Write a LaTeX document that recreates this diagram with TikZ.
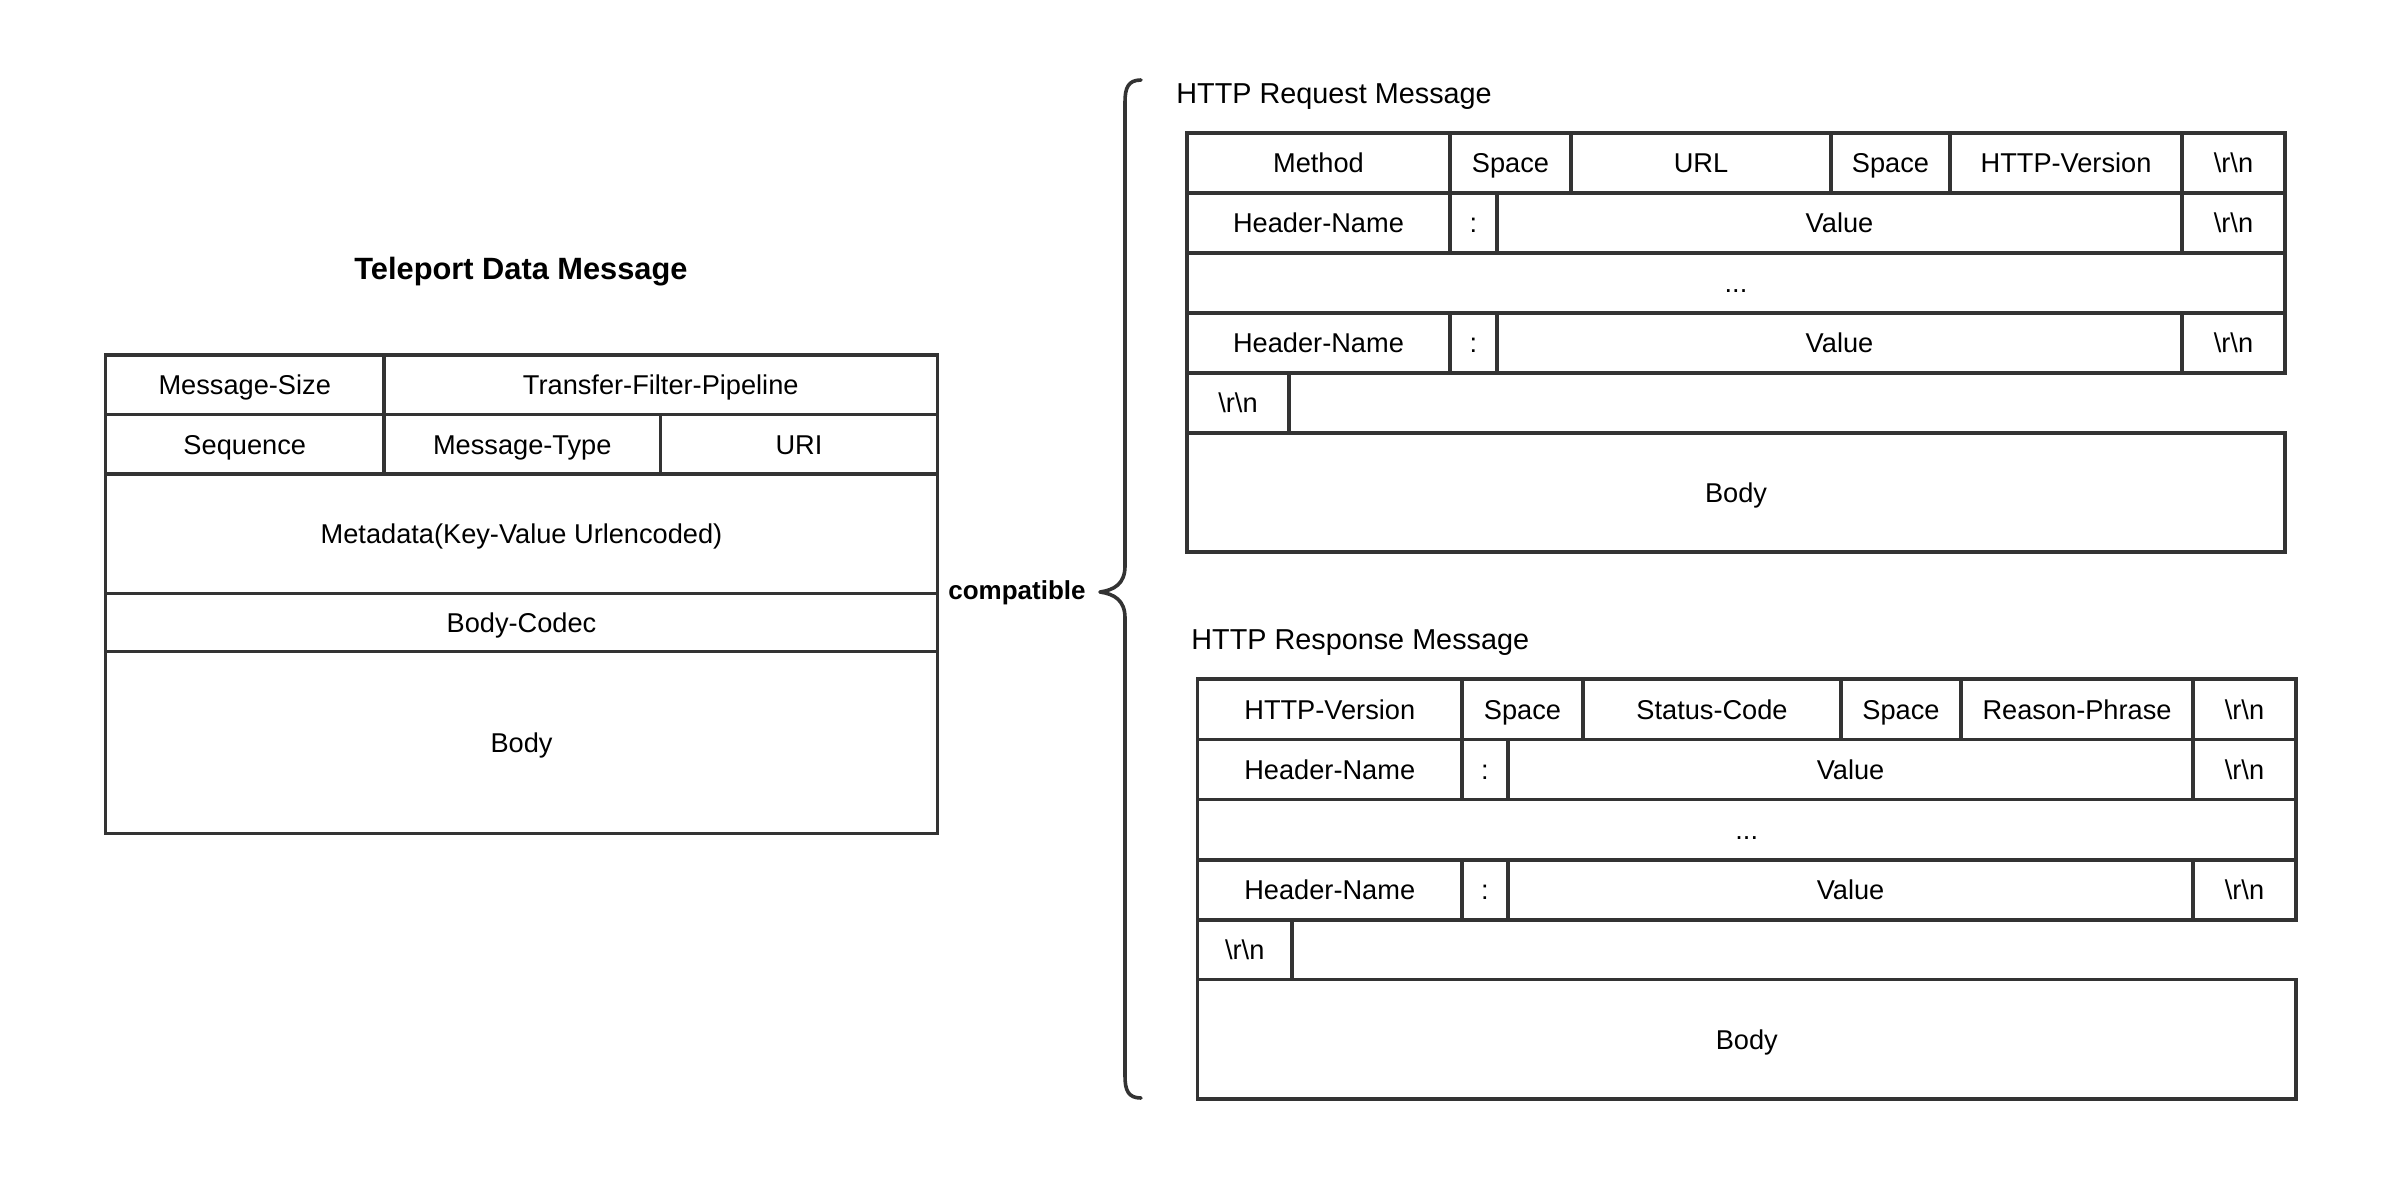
\documentclass[tikz,border=0pt]{standalone}
\usepackage{fontspec}
\setmainfont{Liberation Sans}
\definecolor{linegray}{HTML}{333333}
\tikzset{
  cell/.style={draw=linegray, line width=1.8pt, inner sep=0pt, outer sep=0pt,
    font=\fontsize{13.6}{15}\selectfont, text=black, text height=2.1ex, text depth=0.25ex},
  title/.style={inner sep=0pt, font=\fontsize{14.4}{16}\selectfont, text=black},
  btitle/.style={inner sep=0pt, font=\fontsize{15.4}{17}\selectfont\bfseries, text=black},
  brace/.style={draw=linegray, line width=1.8pt, line cap=round, line join=round},
}
\newcommand\mycell[6]{%
  \node[cell, minimum width={(#4-#2)*0.5pt}, minimum height={(#5-#3)*0.5pt}]
    (#1) at ({(#2+#4)/2},{(#3+#5)/2}) {#6};}
\newcommand\crlf{\textbackslash r\textbackslash n}
\begin{document}
\begin{tikzpicture}[x=0.5pt,y=-0.5pt]
\useasboundingbox (0,0) rectangle (2398,1196);

% ---------- Teleport Data Message ----------
\node[btitle] (ttitle) at (521,272) {Teleport Data Message};
\mycell{ms}{105.5}{355}{384}{414.5}{Message-Size}
\mycell{tfp}{384}{355}{937.5}{414.5}{Transfer-Filter-Pipeline}
\mycell{seq}{105.5}{414.5}{384}{474}{Sequence}
\mycell{mt}{384}{414.5}{660.5}{474}{Message-Type}
\mycell{uri}{660.5}{414.5}{937.5}{474}{URI}
\mycell{meta}{105.5}{474}{937.5}{593.5}{Metadata(Key-Value Urlencoded)}
\mycell{codec}{105.5}{593.5}{937.5}{651.5}{Body-Codec}
\mycell{tbody}{105.5}{651.5}{937.5}{833.5}{Body}

% ---------- compatible + brace ----------
\node[inner sep=0pt, font=\fontsize{13}{15}\selectfont\bfseries] (compat) at (1017,593) {compatible};
\coordinate (btop) at (1141,80);
\coordinate (btip) at (1100,592);
\coordinate (bbot) at (1141,1098);
\draw[brace] (btop) .. controls (1128,80) and (1125,88) .. (1125,102)
  -- (1125,566) .. controls (1125,584) and (1114,590) .. (btip)
  .. controls (1114,594) and (1125,600) .. (1125,618)
  -- (1125,1076) .. controls (1125,1090) and (1128,1098) .. (bbot);

% ---------- HTTP Request Message ----------
\node[title, anchor=west] (rqtitle) at (1176,97) {HTTP Request Message};
\mycell{rqa}{1187}{133}{1450}{193}{Method}
\mycell{rqb}{1450}{133}{1571}{193}{Space}
\mycell{rqc}{1571}{133}{1831}{193}{URL}
\mycell{rqd}{1831}{133}{1950}{193}{Space}
\mycell{rqe}{1950}{133}{2182}{193}{HTTP-Version}
\mycell{rqf}{2182}{133}{2285}{193}{\crlf}
\mycell{rqg}{1187}{193}{1450}{253}{Header-Name}
\mycell{rqh}{1450}{193}{1497}{253}{:}
\mycell{rqi}{1497}{193}{2182}{253}{Value}
\mycell{rqj}{2182}{193}{2285}{253}{\crlf}
\mycell{rqk}{1187}{253}{2285}{313}{...}
\mycell{rql}{1187}{313}{1450}{373}{Header-Name}
\mycell{rqm}{1450}{313}{1497}{373}{:}
\mycell{rqn}{1497}{313}{2182}{373}{Value}
\mycell{rqo}{2182}{313}{2285}{373}{\crlf}
\mycell{rqp}{1187}{373}{1289}{433}{\crlf}
\mycell{rqq}{1187}{433}{2285}{552}{Body}

% ---------- HTTP Response Message ----------
\node[title, anchor=west] (rstitle) at (1191,643) {HTTP Response Message};
\mycell{rsa}{1197.5}{679}{1462}{739.5}{HTTP-Version}
\mycell{rsb}{1462}{679}{1583}{739.5}{Space}
\mycell{rsc}{1583}{679}{1841}{739.5}{Status-Code}
\mycell{rsd}{1841}{679}{1961}{739.5}{Space}
\mycell{rse}{1961}{679}{2193}{739.5}{Reason-Phrase}
\mycell{rsf}{2193}{679}{2296}{739.5}{\crlf}
\mycell{rsg}{1197.5}{739.5}{1462}{799.5}{Header-Name}
\mycell{rsh}{1462}{739.5}{1508}{799.5}{:}
\mycell{rsi}{1508}{739.5}{2193}{799.5}{Value}
\mycell{rsj}{2193}{739.5}{2296}{799.5}{\crlf}
\mycell{rsk}{1197.5}{799.5}{2296}{860}{...}
\mycell{rsl}{1197.5}{860}{1462}{920}{Header-Name}
\mycell{rsm}{1462}{860}{1508}{920}{:}
\mycell{rsn}{1508}{860}{2193}{920}{Value}
\mycell{rso}{2193}{860}{2296}{920}{\crlf}
\mycell{rsp}{1197.5}{920}{1292}{979.5}{\crlf}
\mycell{rsq}{1197.5}{979.5}{2296}{1099}{Body}
\end{tikzpicture}
\end{document}
